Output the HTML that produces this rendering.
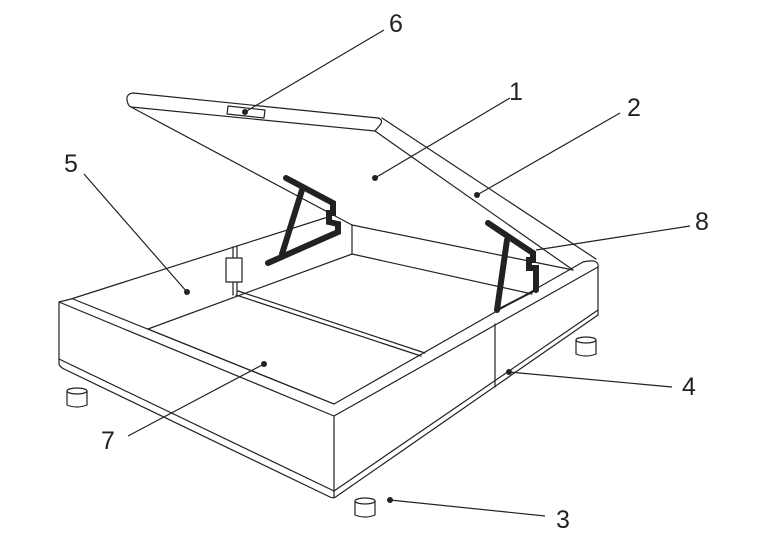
<!DOCTYPE html>
<html><head><meta charset="utf-8"><style>
html,body{margin:0;padding:0;background:#fff;}
svg{display:block}
text{font-family:"Liberation Sans",sans-serif;font-size:25px;fill:#222;}
</style></head><body>
<svg width="769" height="560" viewBox="0 0 769 560" xmlns="http://www.w3.org/2000/svg">
<g fill="none" stroke="#222" stroke-width="1.2" stroke-linejoin="round" stroke-linecap="round">
<!-- lid -->
<path d="M378,118 L133,93 Q126,94 127,100 Q128,106 131,107 L375,131"/>
<path d="M378,118 Q384,120 380,125 L375,131"/>
<path d="M131,107 L352,225"/>
<path d="M382,118 L596,259"/>
<path d="M375,131 L573,270"/>
<polygon points="228,106 265,110 264,118 227,114"/>
<!-- back walls -->
<path d="M352,225 L573,270"/>
<path d="M352,225 L352,254 L532,294"/>
<path d="M71,299 L328,217"/>
<path d="M148,329 L352,254"/>
<path d="M233,247 L233,295 M237,246 L237,294"/>
<rect x="226" y="258" width="16" height="24" fill="#fff"/>
<!-- floor division -->
<path d="M236,295 L421,356 M238,291 L425,353"/>
<!-- rim -->
<path d="M59,302 L71,299"/>
<path d="M583,262 Q600,258 598,268"/>
<path d="M59,302 L334,416 L598,267"/>
<path d="M73,299 L334,404 L583,262"/>
<path d="M148,329 L334,404"/>
<!-- front faces -->
<path d="M59,302 L59,364 Q60,367 64,369 L330,497 Q334,499 337,496 L598,315 L598,267"/>
<path d="M59,359 L334,491 L598,310"/>
<path d="M334,416 L334,497"/>
<path d="M495,324 L495,387"/>
<!-- legs -->
<g>
<ellipse cx="77" cy="391" rx="10" ry="3"/><path d="M67,391 L67,405 Q77,409 87,405 L87,391"/>
<ellipse cx="586" cy="340" rx="10" ry="3"/><path d="M576,340 L576,354 Q586,358 596,354 L596,340"/>
<ellipse cx="365" cy="501" rx="10" ry="3"/><path d="M355,501 L355,515 Q365,519 375,515 L375,501"/>
</g>
</g>
<!-- mechanisms -->
<g fill="none" stroke="#222" stroke-width="6" stroke-linejoin="miter" stroke-linecap="round">
<path d="M286,178 L333,203 L333,213 L329,213 L329,222 L338,224 L338,232 L268,263"/>
<path d="M302,190 L282,254"/>
<path d="M488,223 L533,253 L533,260 L529,260 L529,268 L536,268 L536,290"/>
<path d="M507,240 L497,310"/>
</g>
<path d="M497,310 L536,290" stroke="#222" stroke-width="2"/>
<!-- leaders -->
<g stroke="#222" stroke-width="1.2">
<line x1="384" y1="30" x2="245" y2="112"/>
<line x1="510" y1="98" x2="375" y2="178"/>
<line x1="620" y1="113" x2="477" y2="195"/>
<line x1="84" y1="174" x2="187" y2="292"/>
<line x1="690" y1="226" x2="536" y2="250"/>
<line x1="672" y1="387" x2="509" y2="372"/>
<line x1="128" y1="436" x2="264" y2="364"/>
<line x1="545" y1="516" x2="390" y2="500"/>
</g>
<g fill="#222">
<circle cx="245" cy="112" r="3"/><circle cx="375" cy="178" r="3"/><circle cx="477" cy="195" r="3"/>
<circle cx="187" cy="292" r="3"/><circle cx="509" cy="372" r="3"/><circle cx="264" cy="364" r="3"/>
<circle cx="390" cy="500" r="3"/>
</g>
<text x="389" y="32">6</text>
<text x="509" y="100">1</text>
<text x="627" y="116">2</text>
<text x="64" y="172">5</text>
<text x="695" y="230">8</text>
<text x="682" y="395">4</text>
<text x="101" y="449">7</text>
<text x="556" y="528">3</text>
</svg>
</body></html>
